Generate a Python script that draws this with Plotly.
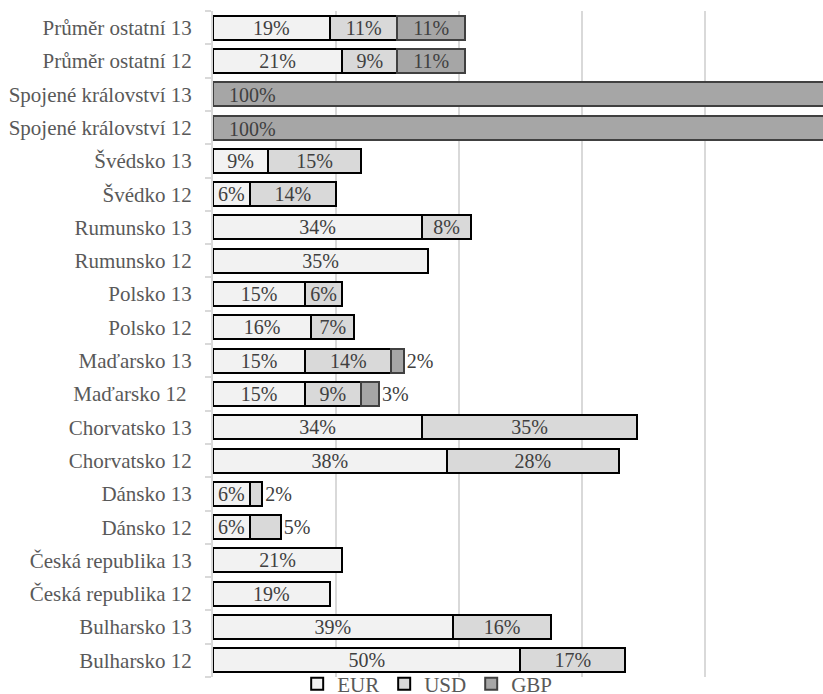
import plotly.graph_objects as go

# Categories listed bottom-to-top as they appear on the y axis
categories = [
    "Bulharsko 12", "Bulharsko 13",
    "Česká republika 12", "Česká republika 13",
    "Dánsko 12", "Dánsko 13",
    "Chorvatsko 12", "Chorvatsko 13",
    "Maďarsko 12\u00a0", "Maďarsko 13",
    "Polsko 12", "Polsko 13",
    "Rumunsko 12", "Rumunsko 13",
    "Švédko 12", "Švédsko 13",
    "Spojené království 12", "Spojené království 13",
    "Průměr ostatní 12", "Průměr ostatní 13",
]

# Currency shares in percent (None = no share)
eur = [50, 39, 19, 21, 6, 6, 38, 34, 15, 15, 16, 15, 35, 34, 6, 9, None, None, 21, 19]
usd = [17, 16, None, None, 5, 2, 28, 35, 9, 14, 7, 6, None, 8, 14, 15, None, None, 9, 11]
gbp = [None, None, None, None, None, None, None, None, 3, 2, None, None, None, None, None, None, 100, 100, 11, 11]

# Labels drawn beside the bar end rather than inside
outside_usd = {"Dánsko 12", "Dánsko 13"}
outside_gbp = {"Maďarsko 12\u00a0", "Maďarsko 13"}
# Labels anchored at the start of the bar
start_gbp = {"Spojené království 12", "Spojené království 13"}

FONT = "Liberation Serif"
LABEL_COLOR = "#404040"
AXIS_COLOR = "#595959"


def labels(vals, skip=()):
    return [("" if (v is None or c in skip) else f"{v}%") for c, v in zip(categories, vals)]


def positions(outside):
    return ["outside" if c in outside else "inside" for c in categories]


label_font = dict(family=FONT, size=20, color=LABEL_COLOR)
axis_font = dict(family=FONT, size=21, color=AXIS_COLOR)

fig = go.Figure()
fig.add_trace(go.Bar(
    name="EUR", y=categories, x=eur, orientation="h",
    marker=dict(color="#f2f2f2", line=dict(color="#000000", width=2)),
    text=labels(eur), textposition="inside", insidetextanchor="middle",
))
fig.add_trace(go.Bar(
    name="USD", y=categories, x=usd, orientation="h",
    marker=dict(color="#d9d9d9", line=dict(color="#000000", width=2)),
    text=labels(usd), textposition=positions(outside_usd), insidetextanchor="middle",
))
fig.add_trace(go.Bar(
    name="GBP", y=categories, x=gbp, orientation="h",
    marker=dict(color="#a6a6a6", line=dict(color="#404040", width=2)),
    text=labels(gbp, start_gbp), textposition=positions(outside_gbp), insidetextanchor="middle",
))

fig.update_traces(
    textfont=label_font, insidetextfont=label_font, outsidetextfont=label_font,
    constraintext="none", cliponaxis=False,
)

# Start-anchored labels for the full-width GBP bars
for c, v in zip(categories, gbp):
    if c in start_gbp and v is not None:
        fig.add_annotation(
            x=0, y=c, xref="x", yref="y", text=f"{v}%", showarrow=False,
            xanchor="left", xshift=14, yshift=-1, font=label_font,
        )

fig.update_layout(
    template="none",
    width=823, height=694,
    barmode="stack", bargap=0.28,
    plot_bgcolor="white", paper_bgcolor="white",
    margin=dict(l=213, r=0, t=11, b=17, autoexpand=False),
    font=axis_font,
    showlegend=True,
    legend=dict(
        orientation="h", x=0.138, xanchor="left", y=0.02, yanchor="top",
        font=axis_font,
        itemwidth=30, tracegroupgap=0, traceorder="normal",
        bgcolor="rgba(0,0,0,0)",
    ),
    xaxis=dict(
        range=[0, 99.2], dtick=20, showgrid=True, gridcolor="#d9d9d9", gridwidth=2,
        showticklabels=False, zeroline=False, showline=False, ticks="",
    ),
    yaxis=dict(
        type="category", categoryorder="array", categoryarray=categories,
        showline=True, linecolor="#d9d9d9", linewidth=2,
        ticks="outside", tickson="boundaries", ticklen=6, tickcolor="#d9d9d9", tickwidth=2,
        ticklabelstandoff=15, showgrid=False, zeroline=False,
        tickfont=axis_font,
    ),
)

fig.write_html("out.html")
